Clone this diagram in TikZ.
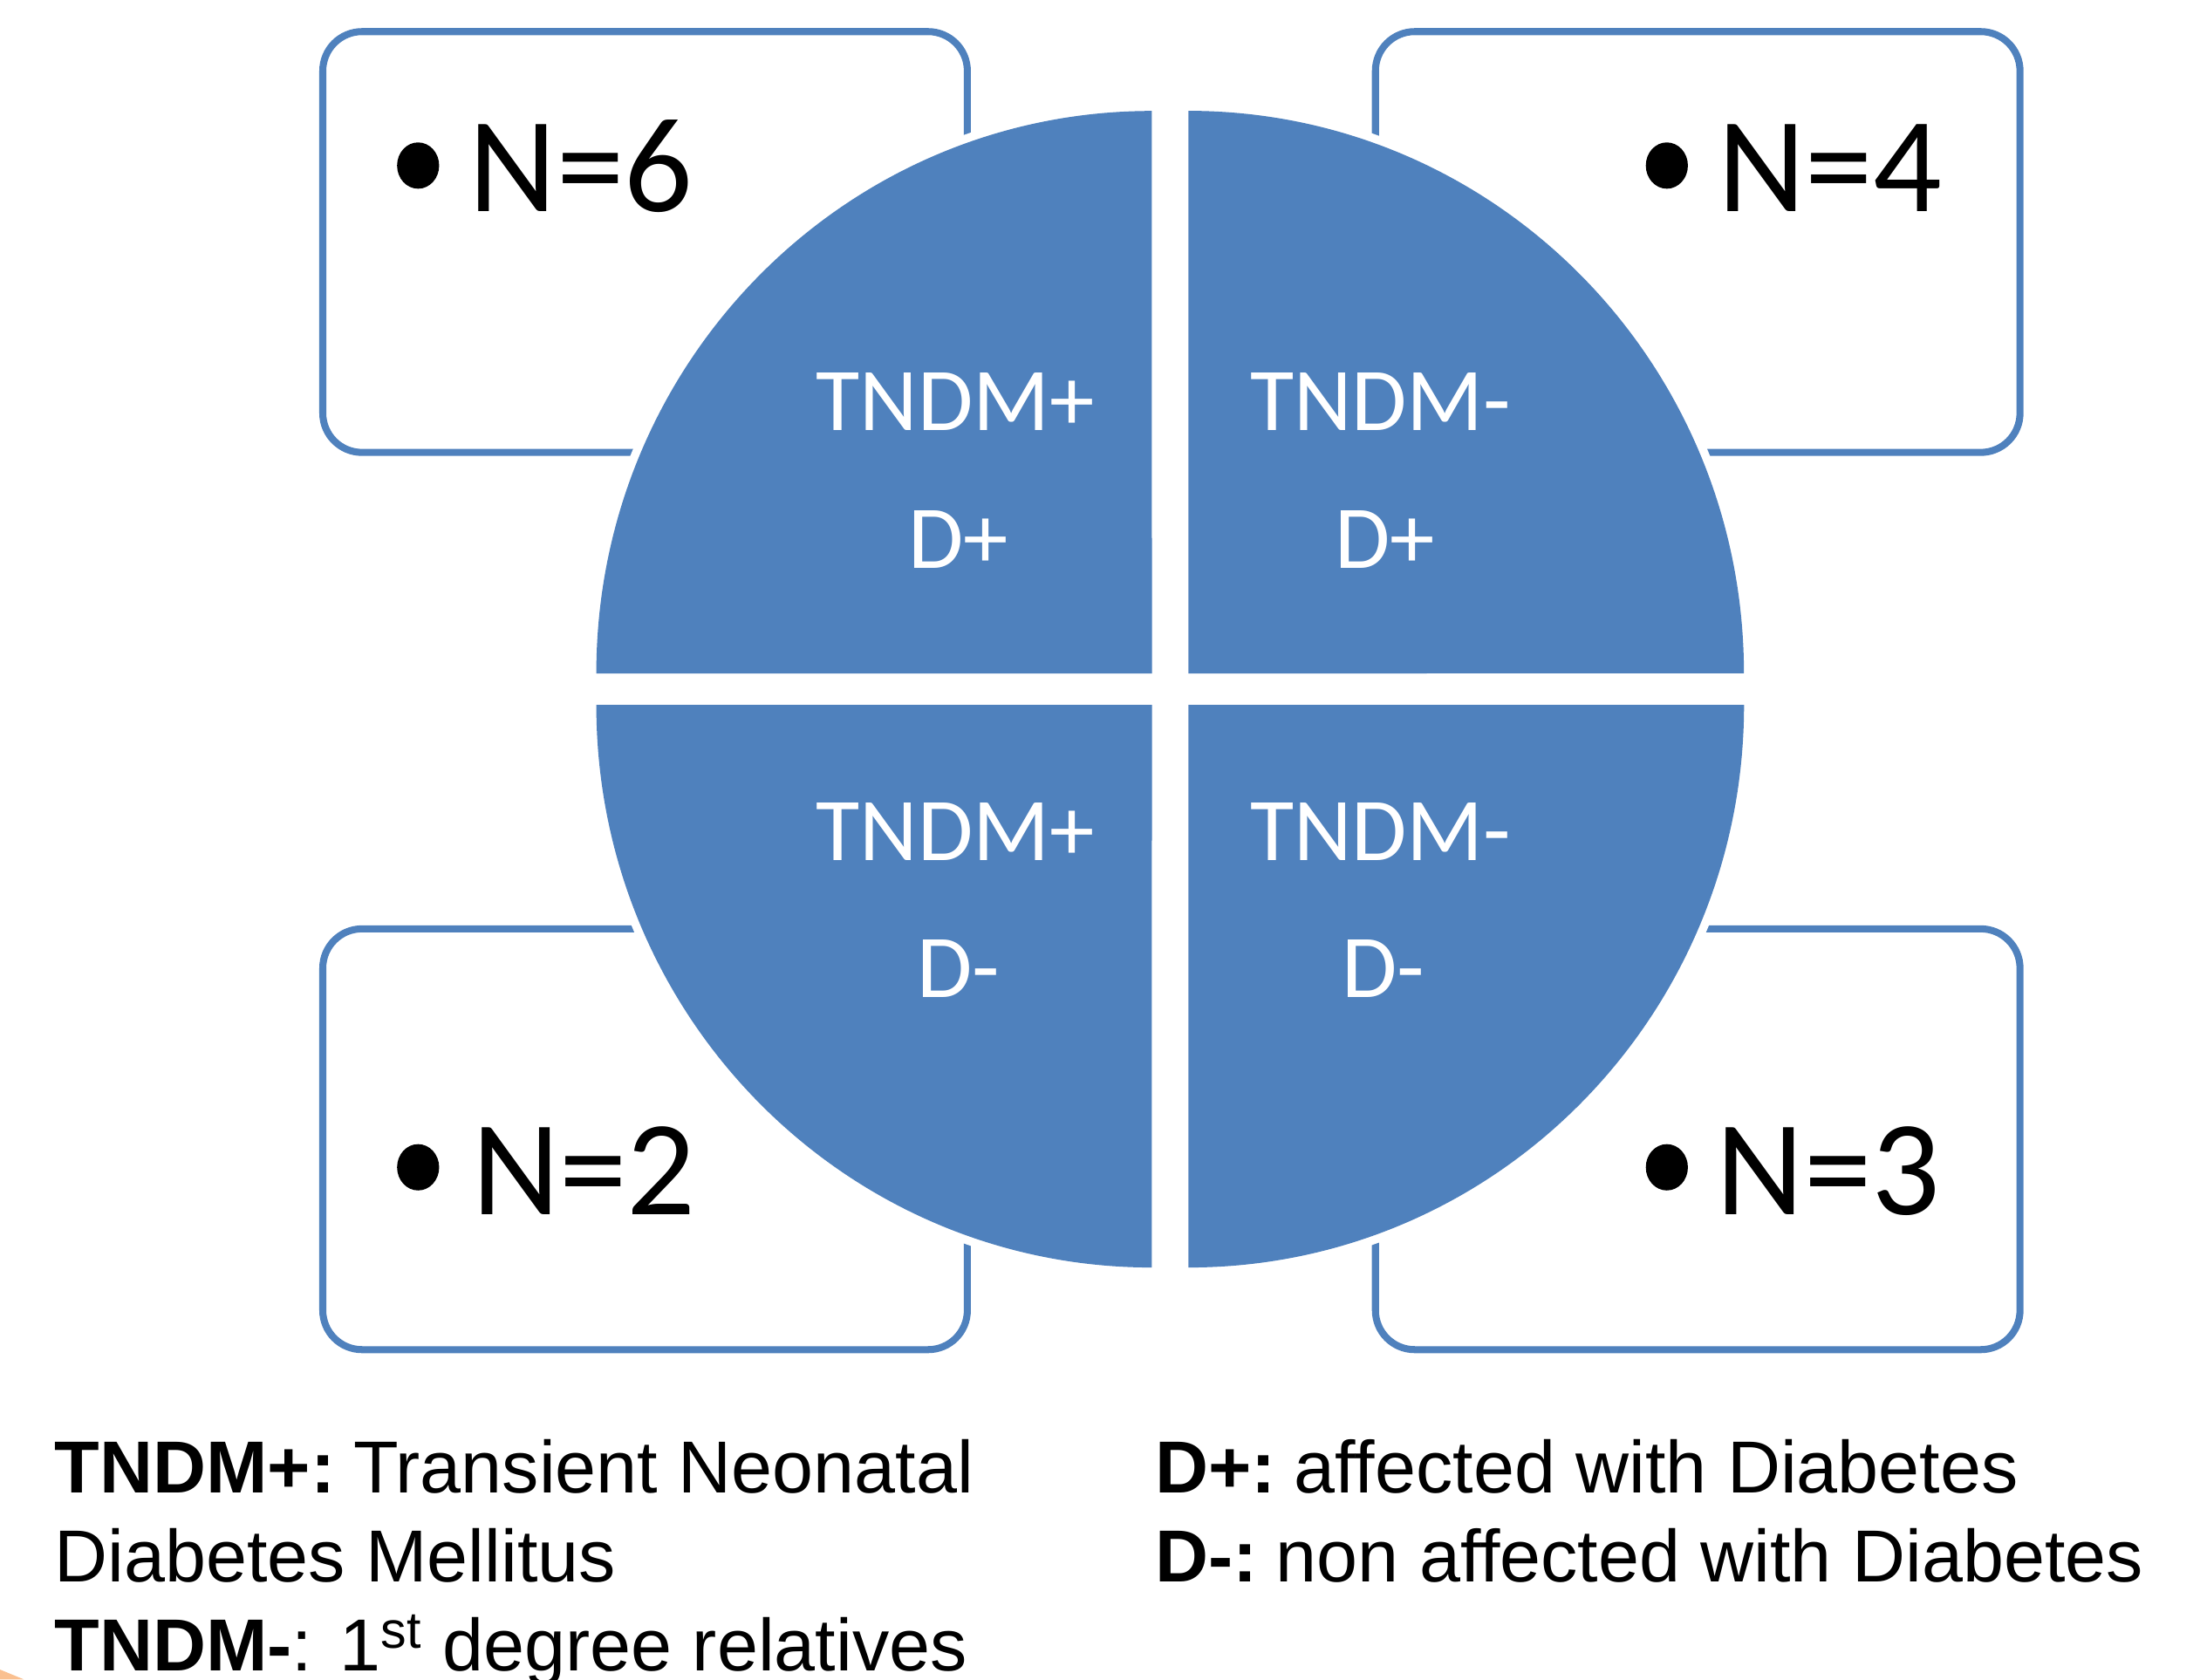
\documentclass[tikz,border=0pt]{standalone}
\usepackage{fontspec}
\setmainfont{Liberation Sans}
\newfontfamily\calib{Carlito}
\usetikzlibrary{shapes.geometric}
\definecolor{qblue}{HTML}{4F81BD}
\definecolor{lorange}{HTML}{FAC090}
\begin{document}
\begin{tikzpicture}[x=0.02cm,y=-0.02cm,
  nbox/.style={draw=qblue, line width=0.1cm, fill=white, rounded corners=0.56cm,
    minimum width=9.19cm, minimum height=6cm, inner sep=0pt, outer sep=0pt},
  bul/.style={ellipse, fill=black, minimum width=0.6cm, minimum height=0.66cm, inner sep=0pt},
  ntext/.style={anchor=base west, inner sep=0pt, font=\calib\fontsize{55}{66}\selectfont},
  qtext/.style={anchor=base, inner sep=0pt, text=white, font=\calib\fontsize{36.4}{44}\selectfont},
  legend/.style={anchor=base west, inner sep=0pt, font=\fontsize{29.9}{36}\selectfont},
  halo/.style={fill=white},
  quad/.style={fill=qblue}
]
\useasboundingbox (0,0) rectangle (1568,1197);
\fill[white] (0,0) rectangle (1568,1197);

% boxes
\node[nbox] (boxTL) at (459.75,172.5) {};
\node[nbox] (boxTR) at (1210,172.5) {};
\node[nbox] (boxBL) at (459.75,812) {};
\node[nbox] (boxBR) at (1210,812) {};

% white halos
\path[halo] (821,480) -- (419,480) arc[start angle=180,end angle=90,x radius=8.04cm,y radius=8.14cm] -- cycle;
\path[halo] (847,480) -- (847,73) arc[start angle=90,end angle=0,x radius=8.04cm,y radius=8.14cm] -- cycle;
\path[halo] (821,502.5) -- (419,502.5) arc[start angle=180,end angle=270,x radius=8.04cm,y radius=8.14cm] -- cycle;
\path[halo] (847,502.5) -- (1249,502.5) arc[start angle=0,end angle=-90,x radius=8.04cm,y radius=8.14cm] -- cycle;

% quadrants
\path[quad] (821,480) -- (425,480) arc[start angle=180,end angle=90,x radius=7.92cm,y radius=8.02cm] -- cycle;
\path[quad] (847,480) -- (847,79) arc[start angle=90,end angle=0,x radius=7.92cm,y radius=8.02cm] -- cycle;
\path[quad] (821,502.5) -- (425,502.5) arc[start angle=180,end angle=270,x radius=7.92cm,y radius=8.02cm] -- cycle;
\path[quad] (847,502.5) -- (1243,502.5) arc[start angle=0,end angle=-90,x radius=7.92cm,y radius=8.02cm] -- cycle;

% quadrant texts
\node[qtext] (q1a) at (681,306.7) {TNDM+};
\node[qtext] (q1b) at (683,405) {D+};
\node[qtext] (q2a) at (984,306.7) {TNDM-};
\node[qtext] (q2b) at (987,405) {D+};
\node[qtext] (q3a) at (681,613.5) {TNDM+};
\node[qtext] (q3b) at (683,711) {D-};
\node[qtext] (q4a) at (984,613.5) {TNDM-};
\node[qtext] (q4b) at (986,711) {D-};

% box contents
\node[bul] (b1) at (298,118) {};
\node[ntext] (n1) at (334,151) {N=6};
\node[bul] (b2) at (1188,118) {};
\node[ntext] (n2) at (1224,151) {N=4};
\node[bul] (b3) at (298,832) {};
\node[ntext] (n3) at (336,865.5) {N=2};
\node[bul] (b4) at (1188,832) {};
\node[ntext] (n4) at (1223,865.5) {N=3};

% legend
\node[legend] (l1) at (38.6,1064) {\textbf{TNDM+:}\hspace{-0.12em} Transient Neonatal};
\node[legend] (l2) at (38.6,1127.5) {Diabetes Mellitus};
\node[legend] (l3) at (38.6,1190.8) {\textbf{TNDM-}: 1\textsuperscript{st} degree relatives};
\node[legend] (r1) at (823,1064) {\textbf{D+:}\hspace{-0.12em} affected with Diabetes};
\node[legend] (r2) at (823,1127.5) {\textbf{D-:}\hspace{-0.12em} non affected with Diabetes};

% orange corner fragment
\fill[lorange] (0,1190) -- (17,1197) -- (0,1197) -- cycle;
\end{tikzpicture}
\end{document}
